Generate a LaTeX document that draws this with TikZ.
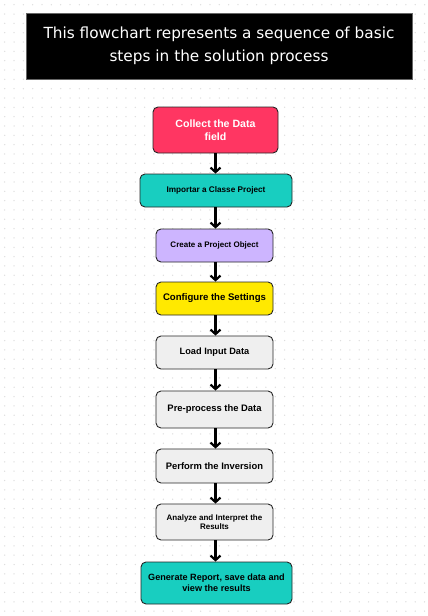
\documentclass[tikz,border=0pt]{standalone}
\usepackage{fontspec}
\setmainfont{Liberation Sans}
\newfontfamily\titlefont{DejaVu Sans}
\usepackage{tikz}
\usetikzlibrary{arrows.meta}

\definecolor{stepred}{HTML}{FF3662}
\definecolor{stepteal}{HTML}{18CEC0}
\definecolor{steppurple}{HTML}{CDB5FF}
\definecolor{stepyellow}{HTML}{FFE900}
\definecolor{stepgray}{HTML}{EFEFEF}

\begin{document}
\begin{tikzpicture}[x=1pt, y=-1pt,
    stepbox/.style={draw=black!85, line width=0.9pt, rounded corners=5pt,
      inner sep=0pt, align=center, font=\bfseries},
    flow/.style={-{Straight Barb[length=4.5pt, width=10pt]}, line width=2.2pt}]
          \useasboundingbox (0,0) rectangle (428,616);
          % dotted background
          \foreach \i in {0,...,45}
            \foreach \j in {0,...,65}
              \fill [black!13] (4.7+9.33*\i, 4.7+9.33*\j) circle (0.75);
          \node [fill=black, draw=black!60, minimum width=386pt, minimum height=66pt,
                 align=center, text=white, font=\titlefont\fontsize{15.3}{23}\selectfont]
                (title) at (219, 46) {This flowchart represents a sequence of basic\\steps in the solution process};
          \node [stepbox, fill=stepred, text=white, minimum width=125pt, minimum height=46pt,
                 font=\bfseries\fontsize{10.6}{13}\selectfont]
                (collect) at (215.5, 130) {Collect the Data\\field};
          \node [stepbox, fill=stepteal, minimum width=152pt, minimum height=33pt,
                 font=\bfseries\fontsize{8.2}{10}\selectfont]
                (import) at (216, 190.5) {Importar a Classe Project};
          \node [stepbox, fill=steppurple, minimum width=117pt, minimum height=33pt,
                 font=\bfseries\fontsize{8}{10}\selectfont]
                (create) at (214.5, 245.5) {Create a Project Object};
          \node [stepbox, fill=stepyellow, minimum width=117pt, minimum height=33pt,
                 font=\bfseries\fontsize{9.6}{11}\selectfont]
                (config) at (214.5, 298.5) {Configure the Settings};
          \node [stepbox, fill=stepgray, minimum width=117pt, minimum height=33pt,
                 font=\bfseries\fontsize{9.2}{11}\selectfont]
                (load) at (214.5, 352.5) {Load Input Data};
          \node [stepbox, fill=stepgray, minimum width=117pt, minimum height=37pt,
                 font=\bfseries\fontsize{9.4}{11}\selectfont]
                (prep) at (214.5, 409.5) {Pre-process the Data};
          \node [stepbox, fill=stepgray, minimum width=117pt, minimum height=34pt,
                 font=\bfseries\fontsize{9.4}{11}\selectfont]
                (invert) at (214.5, 466) {Perform the Inversion};
          \node [stepbox, fill=stepgray, minimum width=117pt, minimum height=36pt,
                 font=\bfseries\fontsize{8}{9}\selectfont]
                (analyze) at (214.5, 522) {Analyze and Interpret the\\Results};
          \node [stepbox, fill=stepteal, minimum width=151pt, minimum height=42pt,
                 font=\bfseries\fontsize{9.1}{11}\selectfont]
                (report) at (216.5, 583) {Generate Report, save data and\\view the results};
          \draw [flow] (collect.south -| 215.5,0) -- (import.north -| 215.5,0);
          \draw [flow] (import.south -| 215.5,0) -- (create.north -| 215.5,0);
          \draw [flow] (create.south -| 215.5,0) -- (config.north -| 215.5,0);
          \draw [flow] (config.south -| 215.5,0) -- (load.north -| 215.5,0);
          \draw [flow] (load.south -| 215.5,0) -- (prep.north -| 215.5,0);
          \draw [flow] (prep.south -| 215.5,0) -- (invert.north -| 215.5,0);
          \draw [flow] (invert.south -| 215.5,0) -- (analyze.north -| 215.5,0);
          \draw [flow] (analyze.south -| 215.5,0) -- (report.north -| 215.5,0);
        \end{tikzpicture}
\end{document}
